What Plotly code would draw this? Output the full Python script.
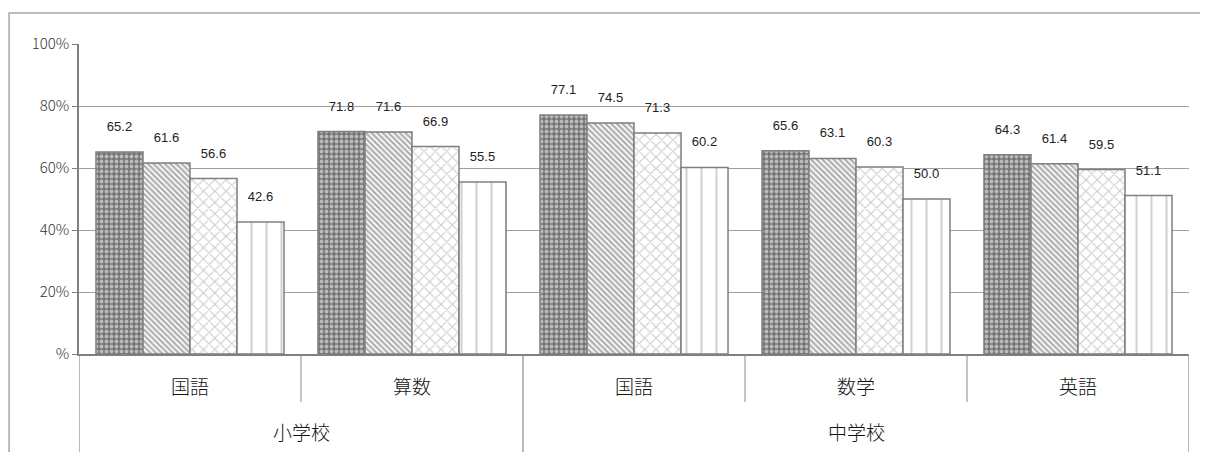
import plotly.graph_objects as go

schools = ["小学校", "小学校", "中学校", "中学校", "中学校"]
subjects = ["国語", "算数", "国語", "数学", "英語"]

series_names = ["系列1", "系列2", "系列3", "系列4"]
s1 = [65.2, 71.8, 77.1, 65.6, 64.3]
s2 = [61.6, 71.6, 74.5, 63.1, 61.4]
s3 = [56.6, 66.9, 71.3, 60.3, 59.5]
s4 = [42.6, 55.5, 60.2, 50.0, 51.1]
series_values = [s1, s2, s3, s4]

y_tickvals = [0, 20, 40, 60, 80, 100]
y_ticktext = ["%", "20%", "40%", "60%", "80%", "100%"]

patterns = [
    dict(shape=".", fgcolor="#ffffff", bgcolor="#767676", size=5, solidity=0.45),
    dict(shape="\\", fgcolor="#5e5e5e", bgcolor="#ffffff", size=4, solidity=0.55),
    dict(shape="x", fgcolor="#969696", bgcolor="#ffffff", size=8, solidity=0.25),
    dict(shape="|", fgcolor="#a0a0a0", bgcolor="#ffffff", size=15, solidity=0.13),
]

idx = list(range(len(subjects)))

fig = go.Figure()
for name, vals, pat in zip(series_names, series_values, patterns):
    fig.add_trace(go.Bar(
        name=name,
        x=idx,
        y=vals,
        marker=dict(color=pat["bgcolor"], pattern=pat,
                    line=dict(color="#7f7f7f", width=1.5)),
        texttemplate="%{y:.1f}<br><span style='font-size:4px'> </span>",
        textposition="outside",
        textfont=dict(family="Liberation Sans, Arial", size=13, color="#222222"),
        cliponaxis=False,
        showlegend=False,
        hovertext=[f"{s} {c}" for s, c in zip(schools, subjects)],
    ))

label_font = dict(family="Noto Sans CJK JP", size=19, color="#111111", weight=300)

# subject labels (inner level)
for i, sub in enumerate(subjects):
    fig.add_annotation(x=i, xref="x", y=-0.1, yref="paper", text=sub,
                       showarrow=False, yanchor="middle", font=label_font)

# school labels (outer level) and dividers
groups = []
for i, s in enumerate(schools):
    if not groups or groups[-1][0] != s:
        groups.append([s, i, i])
    else:
        groups[-1][2] = i
for s, a, b in groups:
    fig.add_annotation(x=(a + b) / 2, xref="x", y=-0.2516, yref="paper", text=s,
                       showarrow=False, yanchor="middle", font=label_font)

for i in range(len(subjects) + 1):
    outer = i == 0 or i == len(subjects) or schools[i] != schools[i - 1]
    fig.add_shape(type="line", xref="x", yref="paper",
                  x0=i - 0.5, x1=i - 0.5, y0=0, y1=-0.4 if outer else -0.155,
                  line=dict(color="#8c8c8c", width=1.2 if outer else 1))

# outer chart border
fig.add_shape(type="rect", xref="paper", yref="paper",
              x0=-0.063, x1=1.1, y0=-0.6, y1=1.1,
              line=dict(color="#a6a6a6", width=1.5), layer="below")

fig.update_layout(
    width=1200, height=444,
    margin=dict(l=71, r=19, t=36, b=98),
    paper_bgcolor="white", plot_bgcolor="white",
    barmode="group", bargap=0.153, bargroupgap=0,
    font=dict(family="Noto Sans CJK JP", color="#222222"),
    xaxis=dict(
        range=[-0.5, len(subjects) - 0.5],
        showline=True, linecolor="#7f7f7f", linewidth=1.5,
        showticklabels=False, ticks="", showgrid=False, zeroline=False,
    ),
    yaxis=dict(
        range=[0, 100], tickvals=y_tickvals, ticktext=y_ticktext,
        showline=True, linecolor="#7f7f7f", linewidth=1.5,
        ticks="outside", ticklen=5, tickcolor="#7f7f7f",
        showgrid=True, gridcolor="#a0a0a0", gridwidth=1,
        tickfont=dict(family="Noto Sans CJK JP", size=15, color="#333333", weight=300),
        zeroline=False,
    ),
)

fig.write_html("out.html")
